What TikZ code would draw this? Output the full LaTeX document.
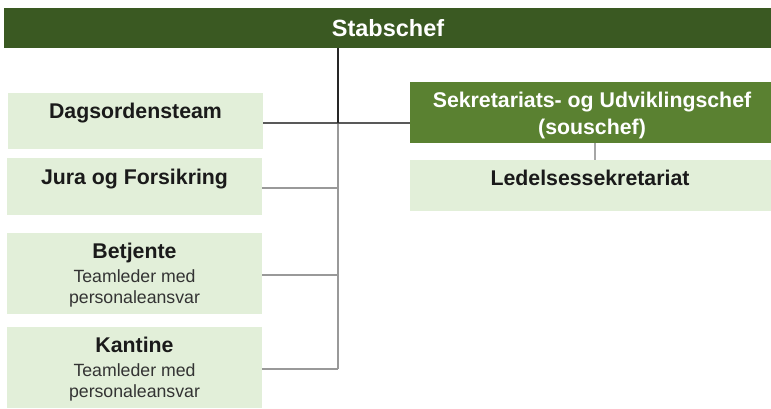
\documentclass[tikz,border=0pt]{standalone}
\usepackage{fontspec}
\setmainfont{Liberation Sans}
\usetikzlibrary{calc}
\definecolor{darkgreen}{HTML}{3A5922}
\definecolor{midgreen}{HTML}{5A8131}
\definecolor{lightgreen}{HTML}{E2EFD9}
\definecolor{txt}{HTML}{1A1A1A}
\definecolor{subtxt}{HTML}{333333}
\begin{document}
\begin{tikzpicture}[x=1pt,y=-1pt,
  box/.style={anchor=north west, inner sep=0pt, outer sep=0pt, fill=lightgreen},
  bt/.style={anchor=base, inner sep=0pt, text=txt, font=\fontsize{21.3}{24}\selectfont\bfseries},
  st/.style={anchor=base, inner sep=0pt, text=subtxt, font=\fontsize{17.7}{20}\selectfont},
  wt/.style={anchor=base, inner sep=0pt, text=white, font=\fontsize{21.3}{24}\selectfont\bfseries},
  topline/.style={draw=black!85, line width=2pt},
  midline/.style={draw=black!65, line width=2pt},
  lowline/.style={draw=black!40, line width=1.6pt},
  subline/.style={draw=black!35, line width=1.2pt}]
\useasboundingbox (0,0) rectangle (771,408);
% boxes
\node[box, fill=darkgreen, minimum width=767pt, minimum height=40pt] (stab) at (4,8) {};
\node[box, minimum width=255pt, minimum height=56pt] (dag) at (8,93) {};
\node[box, minimum width=255pt, minimum height=57pt] (jur) at (7,158) {};
\node[box, minimum width=255pt, minimum height=81pt] (bet) at (7,233) {};
\node[box, minimum width=255pt, minimum height=81pt] (kan) at (7,327) {};
\node[box, fill=midgreen, minimum width=361pt, minimum height=61pt] (sek) at (410,82) {};
\node[box, minimum width=361pt, minimum height=51pt] (led) at (410,160) {};
% texts
\node[wt, font=\fontsize{23.5}{24}\selectfont\bfseries] (stabt) at (388,36) {Stabschef};
\node[bt] (dagt) at (135.5,118) {Dagsordensteam};
\node[bt] (jurt) at (134.5,184) {Jura og Forsikring};
\node[bt] (bett) at (134.5,258) {Betjente};
\node[st] (bets1) at (134.5,282) {Teamleder med};
\node[st] (bets2) at (134.5,303) {personaleansvar};
\node[bt] (kant) at (134.5,352) {Kantine};
\node[st] (kans1) at (134.5,376) {Teamleder med};
\node[st] (kans2) at (134.5,397) {personaleansvar};
\node[wt] (sekt1) at (592,107) {Sekretariats- og Udviklingschef};
\node[wt] (sekt2) at (592,134) {(souschef)};
\node[bt] (ledt) at (590,185) {Ledelsessekretariat};
% connectors
\coordinate (j1) at (338,123);
\coordinate (j2) at (338,369);
\draw[lowline] (j1) -- (j2);
\draw[lowline] ($(jur.east)+(0,1.5)$) -- ($(jur.east -| j1)+(0,1.5)$);
\draw[lowline] ($(bet.east)+(0,1.5)$) -- ($(bet.east -| j1)+(0,1.5)$);
\draw[lowline] (kan.east |- j2) -- (j2);
\draw[midline] (dag.east |- j1) -- (sek.west |- j1);
\draw[topline] (stab.south -| j1) -- (j1);
\draw[subline] ($(sek.south)+(4.5,0)$) -- ($(led.north)+(4.5,0)$);
\end{tikzpicture}
\end{document}
